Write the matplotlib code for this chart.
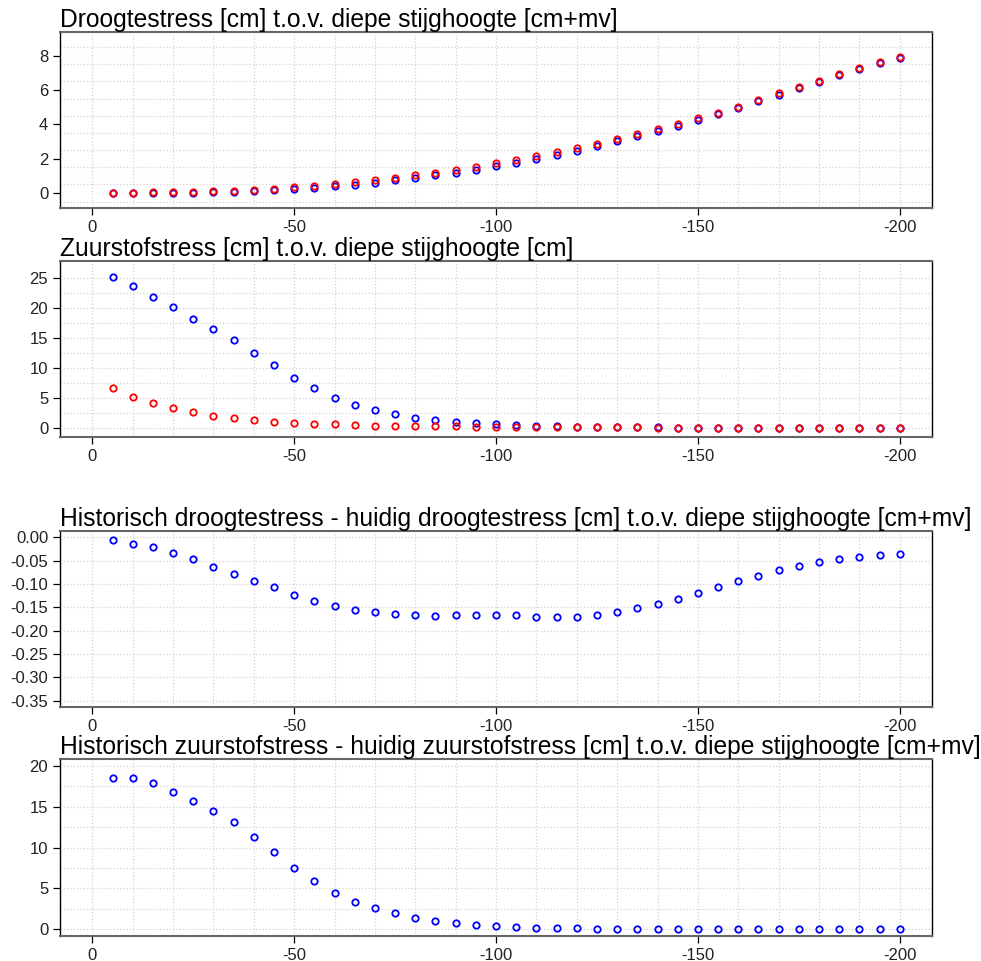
import numpy as np
import matplotlib
matplotlib.use('Agg')
import matplotlib.pyplot as plt

plt.rcParams['font.family'] = ['Liberation Sans', 'DejaVu Sans']
plt.rcParams['axes.unicode_minus'] = False

# diepe stijghoogte [cm+mv]
stijghoogte = [-5, -10, -15, -20, -25, -30, -35, -40, -45, -50,
               -55, -60, -65, -70, -75, -80, -85, -90, -95, -100,
               -105, -110, -115, -120, -125, -130, -135, -140, -145, -150,
               -155, -160, -165, -170, -175, -180, -185, -190, -195, -200]

# droogtestress: historisch (blauw) en huidig (rood)
droogte_hist = [0.003, 0.006, 0.008, 0.017, 0.023, 0.037, 0.061, 0.096, 0.153, 0.206,
                0.294, 0.383, 0.484, 0.609, 0.736, 0.873, 1.022, 1.183, 1.354, 1.554,
                1.773, 2.000, 2.239, 2.469, 2.714, 2.999, 3.298, 3.587, 3.898, 4.231,
                4.574, 4.927, 5.338, 5.729, 6.108, 6.487, 6.873, 7.217, 7.561, 7.884]
droogte_huidig = [0.01, 0.02, 0.03, 0.05, 0.07, 0.10, 0.14, 0.19, 0.26, 0.33,
                  0.43, 0.53, 0.64, 0.77, 0.90, 1.04, 1.19, 1.35, 1.52, 1.72,
                  1.94, 2.17, 2.41, 2.64, 2.88, 3.16, 3.45, 3.73, 4.03, 4.35,
                  4.68, 5.02, 5.42, 5.80, 6.17, 6.54, 6.92, 7.26, 7.60, 7.92]

# zuurstofstress: historisch (blauw) en huidig (rood)
zuurstof_hist = [25.1, 23.6, 21.9, 20.1, 18.2, 16.5, 14.7, 12.55, 10.45, 8.4,
                 6.65, 5.05, 3.85, 2.95, 2.28, 1.72, 1.32, 1.0, 0.78, 0.6,
                 0.48, 0.38, 0.3, 0.24, 0.18, 0.14, 0.11, 0.09, 0.07, 0.06,
                 0.05, 0.04, 0.04, 0.03, 0.03, 0.03, 0.02, 0.02, 0.02, 0.02]
zuurstof_huidig = [6.6, 5.2, 4.1, 3.25, 2.6, 2.05, 1.65, 1.3, 1.05, 0.88,
                   0.7, 0.58, 0.48, 0.4, 0.36, 0.32, 0.28, 0.25, 0.22, 0.2,
                   0.18, 0.16, 0.14, 0.12, 0.1, 0.09, 0.08, 0.07, 0.06, 0.05,
                   0.04, 0.04, 0.03, 0.03, 0.03, 0.02, 0.02, 0.02, 0.02, 0.02]

# verschillen historisch - huidig
droogte_verschil = [-0.007, -0.014, -0.022, -0.033, -0.047, -0.063, -0.079, -0.094, -0.107, -0.124,
                    -0.136, -0.147, -0.156, -0.161, -0.164, -0.167, -0.168, -0.167, -0.166, -0.166,
                    -0.167, -0.170, -0.171, -0.171, -0.166, -0.161, -0.152, -0.143, -0.132, -0.119,
                    -0.106, -0.093, -0.082, -0.071, -0.062, -0.053, -0.047, -0.043, -0.039, -0.036]
zuurstof_verschil = [18.5, 18.45, 17.85, 16.85, 15.7, 14.5, 13.1, 11.25, 9.4, 7.55,
                     5.95, 4.5, 3.4, 2.6, 1.95, 1.4, 1.06, 0.78, 0.57, 0.41,
                     0.3, 0.22, 0.16, 0.11, 0.08, 0.05, 0.03, 0.02, 0.01, 0.01,
                     0.0, 0.0, 0.0, 0.0, 0.0, 0.0, 0.0, 0.0, 0.0, 0.0]

titles = ['Droogtestress [cm] t.o.v. diepe stijghoogte [cm+mv]',
          'Zuurstofstress [cm] t.o.v. diepe stijghoogte [cm]',
          'Historisch droogtestress - huidig droogtestress [cm] t.o.v. diepe stijghoogte [cm+mv]',
          'Historisch zuurstofstress - huidig zuurstofstress [cm] t.o.v. diepe stijghoogte [cm+mv]']

fig = plt.figure(figsize=(9.81, 9.61), dpi=100)

# [left, bottom, width, height] in figuur-fracties
posities = [[0.0612, 0.7836, 0.8889, 0.1831],
            [0.0612, 0.5450, 0.8889, 0.1838],
            [0.0612, 0.2640, 0.8889, 0.1838],
            [0.0612, 0.0260, 0.8889, 0.1839]]

series = [[(droogte_hist, 'blue'), (droogte_huidig, 'red')],
          [(zuurstof_hist, 'blue'), (zuurstof_huidig, 'red')],
          [(droogte_verschil, 'blue')],
          [(zuurstof_verschil, 'blue')]]

ylims = [(-0.87, 9.37), (-1.55, 27.9), (-0.364, 0.014), (-0.82, 20.8)]
yticks = [np.arange(0, 9, 2), np.arange(0, 26, 5), np.arange(0, -0.36, -0.05), np.arange(0, 21, 5)]
ygrid = [np.arange(-0.5, 9, 1), np.arange(0, 26, 2.5), np.arange(0, -0.36, -0.05), np.arange(0, 21, 2.5)]
yfmt = ['%d', '%d', '%.2f', '%d']

for i in range(4):
    ax = fig.add_axes(posities[i])
    for x in range(0, -201, -10):
        ax.axvline(x, color='#d3d3d3', linestyle=':', linewidth=0.9, zorder=0)
    for y in ygrid[i]:
        ax.axhline(y, color='#d3d3d3', linestyle=':', linewidth=0.9, zorder=0)
    for vals, kleur in series[i]:
        ax.plot(stijghoogte, vals, 'o', markerfacecolor='none', markeredgecolor=kleur,
                markersize=4.6, markeredgewidth=1.3)
    ax.set_xlim(8, -208)
    ax.set_ylim(ylims[i])
    ax.set_xticks([0, -50, -100, -150, -200])
    ax.set_yticks(yticks[i])
    ax.set_yticklabels([yfmt[i] % v for v in yticks[i]])
    ax.tick_params(length=5, width=0.9, pad=3.5, labelsize=12, labelcolor='#222222')
    for s in ['top', 'bottom']:
        ax.spines[s].set_color('#666666')
        ax.spines[s].set_linewidth(1.5)
    for s in ['left', 'right']:
        ax.spines[s].set_color('black')
        ax.spines[s].set_linewidth(1.0)
    ax.set_title(titles[i], loc='left', fontsize=17.7, pad=1.5)

plt.savefig('out.png', dpi=100)
